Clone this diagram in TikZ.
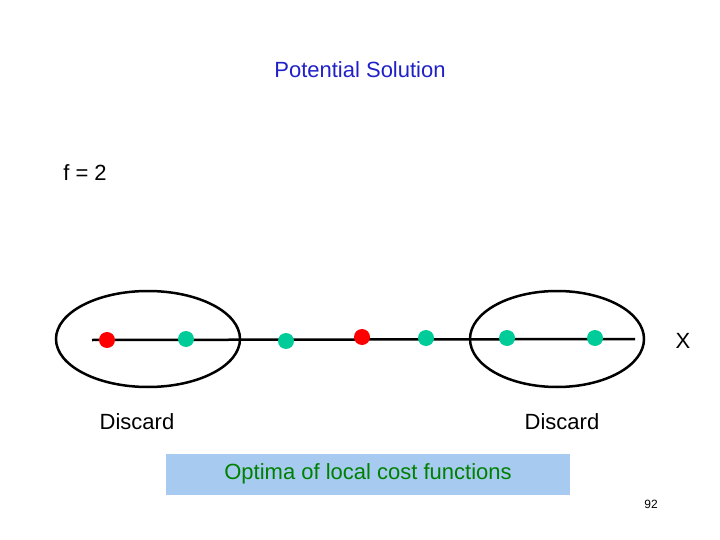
\documentclass[tikz,border=0pt]{standalone}
\usepackage{fontspec}
\setmainfont{Liberation Sans}
\begin{document}
\begin{tikzpicture}[x=1pt,y=-1pt,
  lbl/.style={font=\fontsize{22}{26}\selectfont},
  rdot/.style={circle,fill=red,inner sep=0,minimum size=16},
  gdot/.style={circle,fill={rgb,255:red,0;green,204;blue,153},inner sep=0,minimum size=16},
  ell/.style={draw,line width=2.5}]
\useasboundingbox (0,0) rectangle (720,540);
\node[lbl,text={rgb,255:red,32;green,32;blue,200}] (title) at (360,70) {Potential Solution};
\node[lbl] (f) at (85,173) {f = 2};
\coordinate (l0) at (92,340);
\coordinate (l1) at (635,339);
\draw[line width=2.5] (l0) -- (l1);
\draw[ell] (148,339) ellipse [x radius=92,y radius=48];
\draw[ell] (557,339) ellipse [x radius=87,y radius=48];
\node[rdot] (d1) at (107,340) {};
\node[gdot] (d2) at (186,339) {};
\node[gdot] (d3) at (286,341) {};
\node[rdot] (d4) at (362,337) {};
\node[gdot] (d5) at (426,338) {};
\node[gdot] (d6) at (507,338) {};
\node[gdot] (d7) at (595,338) {};
\node[lbl] (x) at (683,341) {X};
\node[lbl] (dl) at (137,422) {Discard};
\node[lbl] (dr) at (562,422) {Discard};
\node[lbl,fill={rgb,255:red,166;green,202;blue,240},text={rgb,255:red,0;green,128;blue,0},minimum width=404,minimum height=41,inner sep=0] (opt) at (368,474) {Optima of local cost functions};
\node[font=\fontsize{12}{14}\selectfont] (n) at (651,504) {92};
\end{tikzpicture}
\end{document}
